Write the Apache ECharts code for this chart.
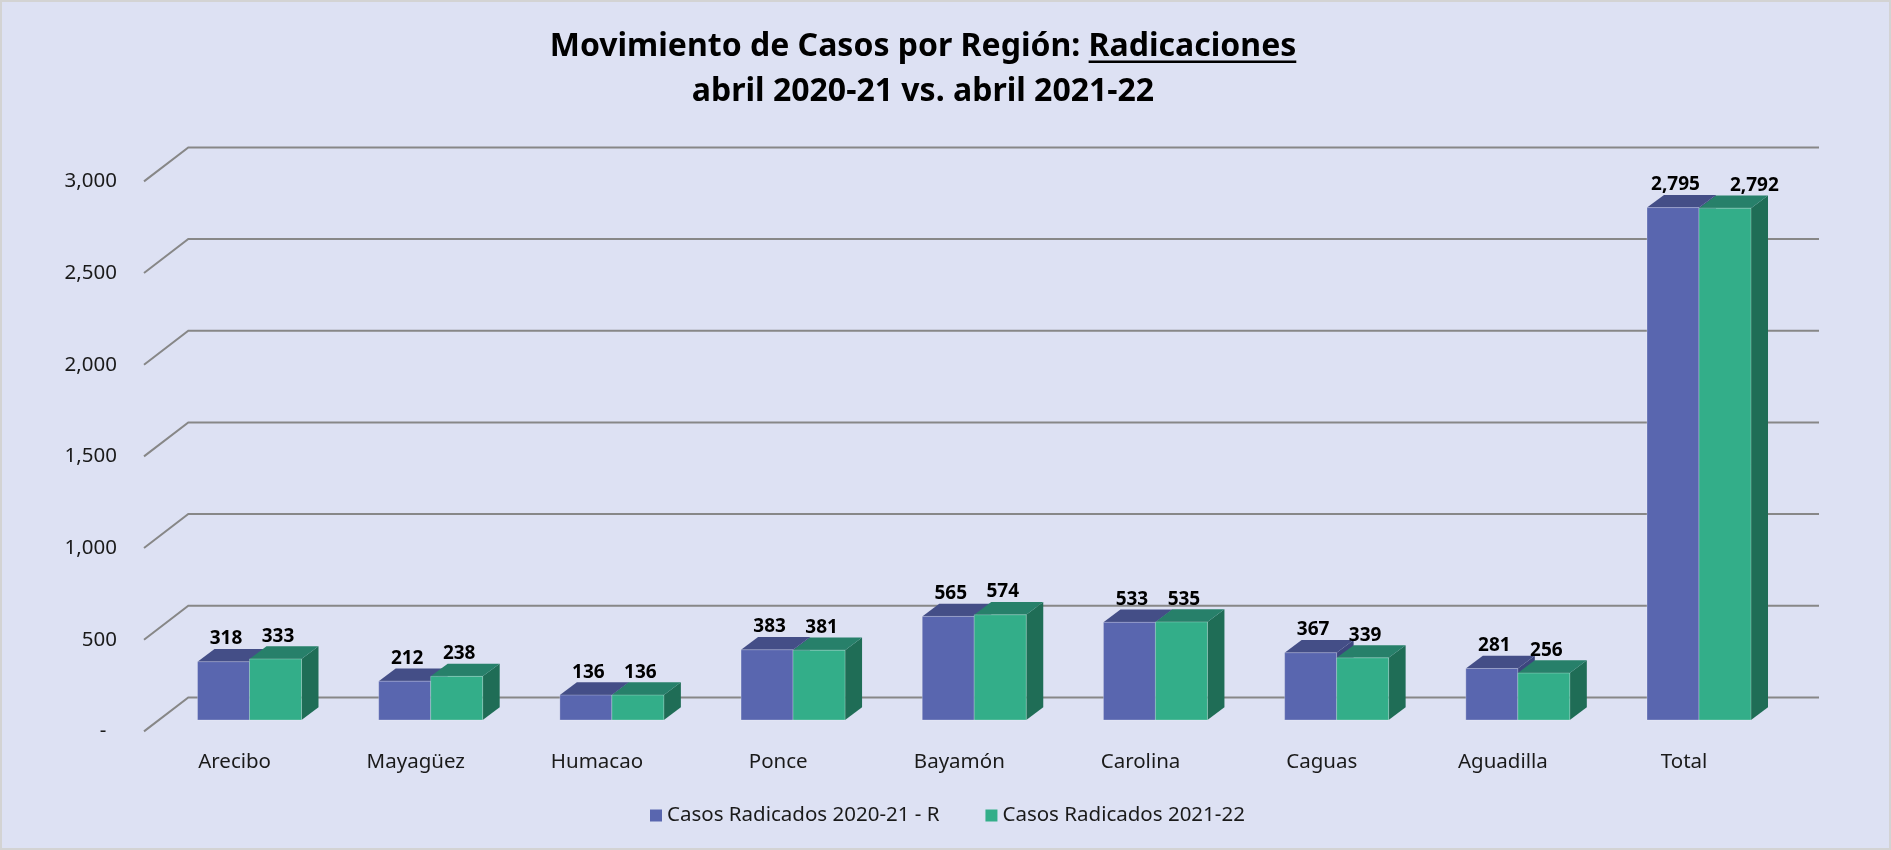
<!DOCTYPE html>
<html>
<head>
<meta charset="utf-8">
<script src="https://cdn.jsdelivr.net/npm/echarts@6/dist/echarts.min.js"></script>
<style>
html,body{margin:0;padding:0;background:#DDE1F3;}
#chart{width:1891px;height:850px;}
</style>
</head>
<body>
<div id="chart"></div>
<script>
// ---- data ----
const categories = ['Arecibo', 'Mayagüez', 'Humacao', 'Ponce', 'Bayamón', 'Carolina', 'Caguas', 'Aguadilla', 'Total'];
const series2020Name = 'Casos Radicados 2020-21 - R';
const series2021Name = 'Casos Radicados 2021-22';
const series2020 = [318, 212, 136, 383, 565, 533, 367, 281, 2795];
const series2021 = [333, 238, 136, 381, 574, 535, 339, 256, 2792];
const yTicks = [0, 500, 1000, 1500, 2000, 2500, 3000];
const titleLine1a = 'Movimiento de Casos por Región: ';
const titleLine1b = 'Radicaciones';
const titleLine2 = 'abril 2020-21 vs. abril 2021-22';

// ---- style constants ----
const BG = '#DDE1F3';
const DX = 17, DY = -12.7;           // bar depth offset
const FW_DX = -14.9, FW_DY = 11.4;   // bar plane -> front wall
const BW_DX = 29.4, BW_DY = -22.6;   // bar plane -> back wall
const BAR_FRAC = 0.287;
const blue = {front: '#5966AF', top: '#444E87', side: '#3D467E'};
const green = {front: '#33AE89', top: '#27806A', side: '#1F6D56'};
const fmt = v => v.toLocaleString('en-US');
const LABEL_FONT = 'bold 19px "Noto Sans"';
const AXIS_FS = 20.5;

const mctx = document.createElement('canvas').getContext('2d');

const chart = echarts.init(document.getElementById('chart'), null, {renderer: 'canvas'});

function wallRender(params, api) {
  const cs = params.coordSys;
  const y = api.coord([0, api.value(1)])[1];
  return {
    type: 'polyline',
    shape: {points: [
      [cs.x + FW_DX, y + FW_DY],
      [cs.x + BW_DX, y + BW_DY],
      [cs.x + cs.width + BW_DX, y + BW_DY]
    ]},
    style: {stroke: '#878787', lineWidth: 2, fill: null}
  };
}

function labelWidth(v) {
  mctx.font = LABEL_FONT;
  return mctx.measureText(fmt(v)).width;
}

function barRender(sideIdx, col) {
  return function (params, api) {
    const ci = api.value(0), v = api.value(1);
    const top = api.coord([ci, v]);
    const base = api.coord([ci, 0]);
    const bw = api.size([1, 0])[0] * BAR_FRAC;
    const x0 = sideIdx === 0 ? top[0] - bw : top[0];
    const x1 = x0 + bw;
    const yT = top[1], yB = base[1];
    let lx = (x0 + x1) / 2 + 2.5;
    if (sideIdx === 1) {
      // avoid collision with the neighbouring (first series) label
      const other = series2020[ci];
      const oc = api.coord([ci, other]);
      const oRight = oc[0] - bw / 2 + 2.5 + labelWidth(other) / 2;
      const myHalf = labelWidth(v) / 2;
      const sameRow = Math.abs((oc[1]) - yT) < 22;
      if (sameRow && lx - myHalf - oRight < 12) lx = oRight + 30 + myHalf;
    }
    return {
      type: 'group',
      children: [
        {type: 'polygon', shape: {points: [[x1, yB], [x1 + DX, yB + DY], [x1 + DX, yT + DY], [x1, yT]]},
          style: {fill: col.side}},
        {type: 'polygon', shape: {points: [[x0, yT], [x1, yT], [x1 + DX, yT + DY], [x0 + DX, yT + DY]]},
          style: {fill: col.top}},
        {type: 'rect', shape: {x: x0, y: yT, width: bw, height: yB - yT},
          style: {fill: col.front, stroke: 'rgba(255,255,255,0.25)', lineWidth: 1}},
        {type: 'text', z2: 100, x: lx, y: yT + DY - 0.5,
          style: {text: fmt(v), align: 'center', verticalAlign: 'bottom',
            font: LABEL_FONT, fill: '#000'}}
      ]
    };
  };
}

// title measurement for underline
const TITLE_FONT_SIZE = 32;
const titleFont = 'bold ' + TITLE_FONT_SIZE + 'px "Noto Sans"';
mctx.font = titleFont;
const wA = mctx.measureText(titleLine1a).width;
const wB = mctx.measureText(titleLine1b).width;
const TITLE_CX = 923;
const line1Start = TITLE_CX - (wA + wB) / 2;

const option = {
  backgroundColor: BG,
  animation: false,
  grid: {left: 158.9, right: 101.4, top: 170, bottom: 130, containLabel: false},
  xAxis: {
    type: 'category', data: categories,
    axisLine: {show: false}, axisTick: {show: false}, splitLine: {show: false},
    axisLabel: {margin: 32, fontSize: AXIS_FS, color: '#1a1a1a', fontFamily: 'Noto Sans', padding: [0, 29.8, 0, 0]}
  },
  yAxis: {
    type: 'value', min: 0, max: 3000, interval: 500,
    axisLine: {show: false}, axisTick: {show: false}, splitLine: {show: false},
    axisLabel: {margin: 42, fontSize: AXIS_FS, color: '#1a1a1a', fontFamily: 'Noto Sans',
      verticalAlign: 'top', lineHeight: 23,
      formatter: v => v === 0 ? '-  ' : fmt(v)}
  },
  legend: {
    data: [series2020Name, series2021Name],
    left: 650, top: 805, padding: 0,
    itemWidth: 12, itemHeight: 12, itemGap: 46, icon: 'rect',
    textStyle: {fontSize: AXIS_FS, color: '#1a1a1a', fontFamily: 'Noto Sans'}
  },
  graphic: [
    {type: 'rect', shape: {x: 1, y: 1, width: 1889, height: 848}, style: {fill: null, stroke: '#D3D3D3', lineWidth: 2}, silent: true},
    {type: 'text', x: line1Start, y: 47, style: {text: titleLine1a + titleLine1b, font: titleFont, fill: '#000', align: 'left', verticalAlign: 'middle'}},
    {type: 'rect', shape: {x: line1Start + wA, y: 60.5, width: wB, height: 2.4}, style: {fill: '#000'}},
    {type: 'text', x: TITLE_CX, y: 91.5, style: {text: titleLine2, font: titleFont, fill: '#000', align: 'center', verticalAlign: 'middle'}}
  ],
  series: [
    {type: 'custom', name: 'wall', z: 1, silent: true, clip: false,
      data: yTicks.map(v => [0, v]), encode: {x: 0, y: 1}, renderItem: wallRender},
    {type: 'custom', name: series2020Name, z: 2, clip: false, itemStyle: {color: blue.front},
      data: series2020.map((v, i) => [i, v]), encode: {x: 0, y: 1}, renderItem: barRender(0, blue)},
    {type: 'custom', name: series2021Name, z: 2, clip: false, itemStyle: {color: green.front},
      data: series2021.map((v, i) => [i, v]), encode: {x: 0, y: 1}, renderItem: barRender(1, green)}
  ]
};
chart.setOption(option);
</script>
</body>
</html>
